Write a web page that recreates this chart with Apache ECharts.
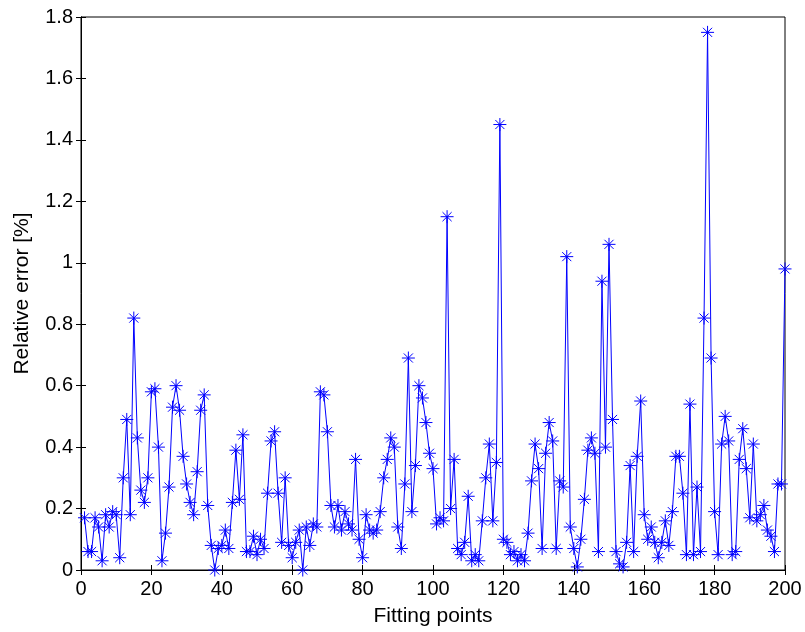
<!DOCTYPE html>
<html>
<head>
<meta charset="utf-8">
<script src="https://cdn.jsdelivr.net/npm/echarts@6/dist/echarts.min.js"></script>
<style>html,body{margin:0;padding:0;background:#fff}#c{width:805px;height:632px}</style>
</head>
<body>
<div id="c"></div>
<script>
const xLabel = 'Fitting points';
const yLabel = 'Relative error [%]';
const xTicks = [0, 20, 40, 60, 80, 100, 120, 140, 160, 180, 200];
const yTicks = [0, 0.2, 0.4, 0.6, 0.8, 1, 1.2, 1.4, 1.6, 1.8];
const errors1to60 = [
  0.17,0.06,0.06,0.17,0.14,0.03,0.18,0.14,0.19,0.18,
  0.04,0.30,0.49,0.18,0.82,0.43,0.26,0.22,0.30,0.58,
  0.59,0.40,0.03,0.12,0.27,0.53,0.60,0.52,0.37,0.28,
  0.22,0.18,0.32,0.52,0.57,0.21,0.08,0.00,0.07,0.08,
  0.13,0.07,0.22,0.39,0.23,0.44,0.06,0.06,0.11,0.05,
  0.10,0.07,0.25,0.42,0.45,0.25,0.09,0.30,0.08,0.04
];
const errors61to120 = [
  0.09,0.13,0.00,0.14,0.08,0.15,0.14,0.58,0.57,0.45,
  0.21,0.14,0.21,0.13,0.19,0.15,0.13,0.36,0.10,0.04,
  0.18,0.13,0.12,0.13,0.19,0.30,0.36,0.43,0.40,0.14,
  0.07,0.28,0.69,0.19,0.34,0.60,0.56,0.48,0.38,0.33,
  0.15,0.17,0.16,1.15,0.20,0.36,0.07,0.05,0.09,0.24,
  0.03,0.05,0.03,0.16,0.30,0.41,0.16,0.35,1.45,0.10
];
const errors121to200 = [
  0.09,0.05,0.06,0.03,0.05,0.03,0.12,0.29,0.41,0.33,
  0.07,0.38,0.48,0.42,0.07,0.29,0.27,1.02,0.14,0.07,
  0.01,0.10,0.23,0.39,0.43,0.38,0.06,0.94,0.40,1.06,
  0.49,0.06,0.02,0.01,0.09,0.34,0.06,0.37,0.55,0.18,
  0.10,0.14,0.09,0.04,0.09,0.16,0.08,0.19,0.37,0.37,
  0.25,0.05,0.54,0.05,0.27,0.06,0.82,1.75,0.69,0.19,
  0.05,0.41,0.50,0.42,0.05,0.06,0.36,0.46,0.33,0.17,
  0.41,0.16,0.18,0.21,0.13,0.11,0.06,0.28,0.28,0.98
];
const errors = errors1to60.concat(errors61to120, errors121to200);
const data = errors.map((v, i) => [i + 1, v]);

const font = 'Liberation Sans, Arial, sans-serif';
const chart = echarts.init(document.getElementById('c'), null, {renderer: 'canvas'});
const tickStyle = {show: true, inside: true, length: 5, lineStyle: {color: '#000', width: 1}};
chart.setOption({
  animation: false,
  backgroundColor: '#fff',
  color: ['#0000ff'],
  grid: {left: 81, right: 20, top: 17, bottom: 62, show: true, borderColor: '#000', borderWidth: 1},
  xAxis: [{
    type: 'value', min: xTicks[0], max: xTicks[xTicks.length - 1], interval: 20,
    name: xLabel, nameLocation: 'middle', nameGap: 36,
    nameTextStyle: {fontFamily: font, fontSize: 21, color: '#000'},
    axisLine: {show: true, onZero: false, lineStyle: {color: '#000'}},
    axisTick: tickStyle, splitLine: {show: false},
    axisLabel: {fontFamily: font, fontSize: 20, color: '#000', margin: 9}
  }, {
    type: 'value', position: 'top', min: 0, max: 200, interval: 20,
    axisLine: {show: true, lineStyle: {color: '#000'}},
    axisTick: tickStyle, axisLabel: {show: false}, splitLine: {show: false}
  }],
  yAxis: [{
    type: 'value', min: yTicks[0], max: yTicks[yTicks.length - 1], interval: 0.2,
    name: yLabel, nameLocation: 'middle', nameGap: 48,
    nameTextStyle: {fontFamily: font, fontSize: 21, color: '#000'},
    axisLine: {show: true, onZero: false, lineStyle: {color: '#000'}},
    axisTick: tickStyle, splitLine: {show: false},
    axisLabel: {fontFamily: font, fontSize: 20, color: '#000', margin: 8,
      formatter: v => String(Math.round(v * 10) / 10)}
  }, {
    type: 'value', position: 'right', min: 0, max: 1.8, interval: 0.2,
    axisLine: {show: true, lineStyle: {color: '#000'}},
    axisTick: tickStyle, axisLabel: {show: false}, splitLine: {show: false}
  }],
  series: [{
    type: 'line', xAxisIndex: 0, yAxisIndex: 0, data: data,
    lineStyle: {color: '#0000ff', width: 1},
    symbol: 'path://M0,-10 L0,10 M-10,0 L10,0 M-7,-7 L7,7 M-7,7 L7,-7',
    symbolSize: 13,
    showAllSymbol: true,
    emphasis: {disabled: true},
    itemStyle: {color: '#0000ff', borderColor: '#0000ff', borderWidth: 1},
    z: 3
  }]
});
</script>
</body>
</html>
